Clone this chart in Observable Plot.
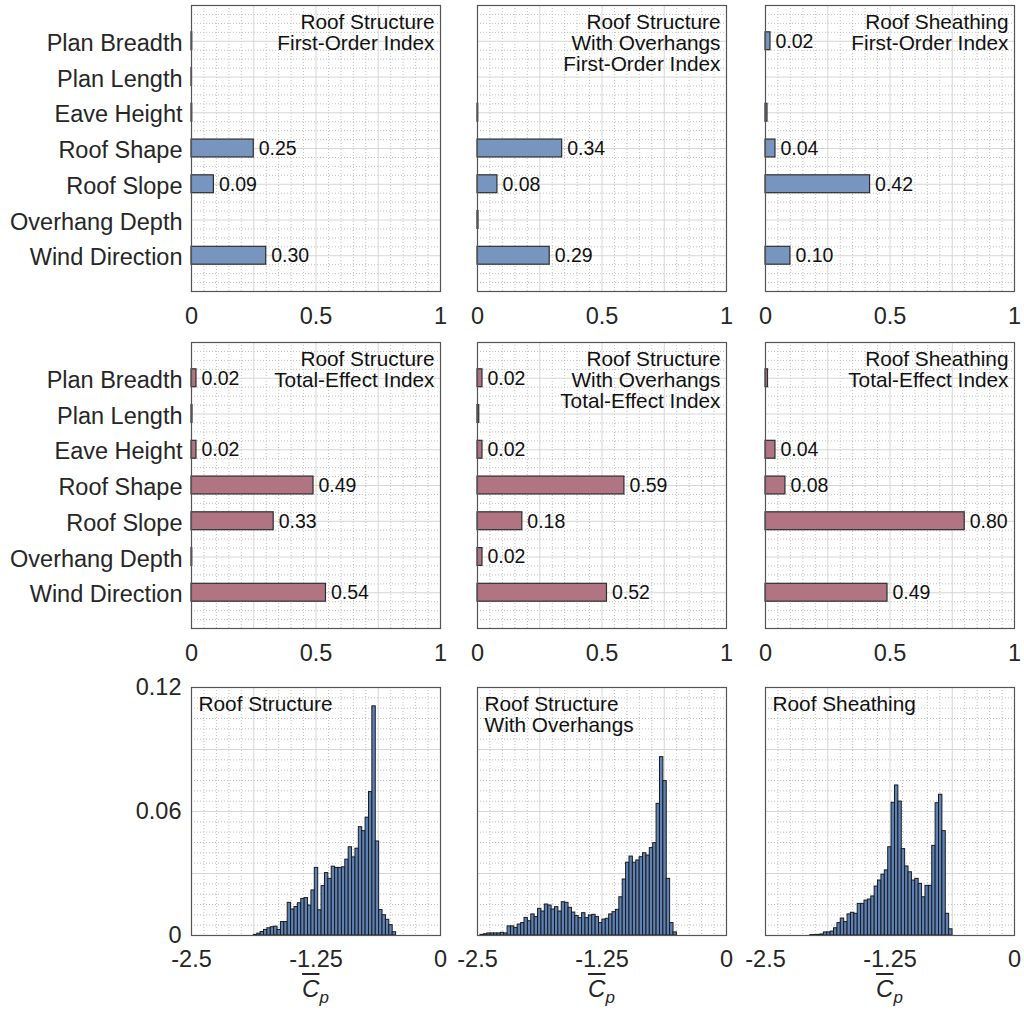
<!DOCTYPE html>
<html>
<head>
<meta charset="utf-8">
<script src="https://cdn.jsdelivr.net/npm/d3@7"></script>
<script src="https://cdn.jsdelivr.net/npm/@observablehq/plot@0.6"></script>
<style>
  body { margin: 0; background: #fff; }
  #fig { position: relative; width: 1024px; height: 1014px; overflow: hidden;
         font-family: "Liberation Sans", Arial, sans-serif; color: #262626; }
  .cp { position: absolute; width: 249px; text-align: center; font-size: 24px; line-height: normal; }
  .cp .c { font-style: italic; text-decoration: overline; }
  .cp sub { font-style: italic; font-size: 17px; }
</style>
</head>
<body>
<div id="fig"></div>
<script>
// ---------------- data ----------------
const categories = ["Plan Breadth", "Plan Length", "Eave Height", "Roof Shape", "Roof Slope", "Overhang Depth", "Wind Direction"];

const firstOrderStructure  = [0.003, 0.002, 0.003, 0.25, 0.09, 0, 0.30];
const firstOrderOverhangs  = [0, 0, 0.003, 0.34, 0.08, 0.004, 0.29];
const firstOrderSheathing  = [0.02, 0, 0.008, 0.04, 0.42, 0, 0.10];

const totalEffectStructure = [0.02, 0.004, 0.02, 0.49, 0.33, 0.003, 0.54];
const totalEffectOverhangs = [0.02, 0.007, 0.02, 0.59, 0.18, 0.02, 0.52];
const totalEffectSheathing = [0.01, 0, 0.04, 0.08, 0.80, 0, 0.49];

const firstOrderTitles  = ["Roof Structure\nFirst-Order Index", "Roof Structure\nWith Overhangs\nFirst-Order Index", "Roof Sheathing\nFirst-Order Index"];
const totalEffectTitles = ["Roof Structure\nTotal-Effect Index", "Roof Structure\nWith Overhangs\nTotal-Effect Index", "Roof Sheathing\nTotal-Effect Index"];
const histTitles        = ["Roof Structure", "Roof Structure\nWith Overhangs", "Roof Sheathing"];

const barTicks   = [0, 0.5, 1];
const histXTicks = [-2.5, -1.25, 0];
const histYTicks = [0, 0.06, 0.12];

// histogram bin edges (Cp) and probabilities
const histBinWidth = 0.034;
const histStructureStart = -1.874;
const histStructure = [0.0003, 0.0009, 0.0017, 0.0027, 0.0035, 0.004, 0.0043, 0.0027, 0.0065, 0.0065,
  0.0158, 0.0126, 0.0138, 0.0156, 0.0177, 0.0181, 0.0145, 0.0218, 0.0327, 0.0122,
  0.0239, 0.0302, 0.0274, 0.0333, 0.0327, 0.0327, 0.033, 0.0367, 0.0427, 0.0378,
  0.042, 0.0524, 0.0505, 0.057, 0.0694, 0.1109, 0.0455, 0.0123, 0.0098, 0.0076,
  0.005, 0.0016];
const histOverhangsStart = -2.47;
const histOverhangs = [0.0003, 0.0006, 0.001, 0.001, 0.001, 0.001, 0.0013, 0.001, 0.0044, 0.0044,
  0.0037, 0.0053, 0.006, 0.0085, 0.0069, 0.0102, 0.0089, 0.0129, 0.0116, 0.015,
  0.0145, 0.0126, 0.0137, 0.0116, 0.0161, 0.0158, 0.0134, 0.0111, 0.0094, 0.0084,
  0.0108, 0.0084, 0.0097, 0.01, 0.0089, 0.006, 0.0077, 0.0081, 0.0102, 0.0113,
  0.0124, 0.0185, 0.0271, 0.0352, 0.0382, 0.0352, 0.0363, 0.0379, 0.0398, 0.0387,
  0.0423, 0.0447, 0.0637, 0.0863, 0.0747, 0.0274, 0.006, 0.0015];
const histSheathingStart = -2.05;
const histSheathing = [0.0002, 0.0002, 0.0003, 0.0005, 0.0015, 0.0015, 0.0019, 0.0035, 0.006, 0.0082,
  0.0065, 0.0102, 0.011, 0.0105, 0.0153, 0.0153, 0.0169, 0.0174, 0.0189, 0.0237,
  0.0266, 0.0294, 0.0315, 0.0427, 0.0642, 0.0726, 0.0648, 0.0418, 0.0334, 0.0306,
  0.0266, 0.0274, 0.025, 0.0185, 0.024, 0.024, 0.0434, 0.064, 0.0681, 0.0505,
  0.0105, 0.003];

// ---------------- layout ----------------
const colLeft = [191, 477, 765];
const rowTop = [5, 342, 687];
const PW = 249, BAR_H = 286, HIST_H = 248;
const FONT = "'Liberation Sans', Arial, Helvetica, sans-serif";
const AXIS_FS = 23.5, TITLE_FS = 20.8, VALUE_FS = 19.5;
const blueFill = "#7895c0", pinkFill = "#b07483", histFill = "#5d82b7";
const minorStyle = {stroke: "#c0c0c0", strokeOpacity: 1, strokeWidth: 1, strokeDasharray: "1,2"};
const majorStyle = {stroke: "#d6d6d6", strokeOpacity: 1, strokeWidth: 1};

const fig = document.getElementById("fig");
function place(node, left, top) {
  node.style.position = "absolute";
  node.style.left = left + "px";
  node.style.top = top + "px";
  fig.appendChild(node);
}
const near = (a, b) => Math.abs(a - b) < 1e-9;

function barPanel(values, title, fill, col, row) {
  const showY = col === 0;
  const data = categories.map((c, i) => ({category: c, idx: i + 1, value: values[i]}));
  const mL = showY ? 191 : 2, mT = 2, mR = 2, mB = 50;
  const majorX = d3.range(0.25, 1, 0.25);
  const minorX = d3.range(0.05, 1, 0.05).filter(v => !majorX.some(m => near(m, v)));
  const majorY = d3.range(1, 8, 1);
  const minorY = d3.range(0.25, 8, 0.25).filter(v => !majorY.some(m => near(m, v)));
  const marks = [
    Plot.gridX(minorX, minorStyle),
    Plot.gridY(minorY, minorStyle),
    Plot.gridX(majorX, majorStyle),
    Plot.gridY(majorY, majorStyle),
    Plot.rect(data.filter(d => d.value > 0), {
      x1: () => 0, x2: "value", y1: d => d.idx - 0.25, y2: d => d.idx + 0.25,
      fill, stroke: "#2e2e2e", strokeWidth: 1.2
    }),
    Plot.text(data.filter(d => d.value >= 0.015), {
      x: "value", y: "idx", text: d => d.value.toFixed(2),
      textAnchor: "start", dx: 5, fontSize: VALUE_FS, fill: "#111"
    }),
    Plot.text([title], {
      frameAnchor: "top-right", textAnchor: "end", lineAnchor: "top",
      dx: -6, dy: 8, fontSize: TITLE_FS, lineHeight: 1.02, fill: "#111"
    }),
    Plot.frame({stroke: "#555", strokeWidth: 1.2}),
    Plot.axisX(barTicks, {tickSize: 0, tickPadding: 16, fontSize: AXIS_FS, tickFormat: d => String(d), label: null})
  ];
  if (showY) marks.push(Plot.axisY(d3.range(1, 8), {tickSize: 0, tickPadding: 9, dy: 2, fontSize: AXIS_FS, tickFormat: i => categories[i - 1], label: null}));
  const svg = Plot.plot({
    width: mL + PW + mR, height: mT + BAR_H + mB,
    marginLeft: mL, marginRight: mR, marginTop: mT, marginBottom: mB,
    x: {type: "linear", domain: [0, 1]},
    y: showY ? {type: "linear", domain: [8, 0]} : {type: "linear", domain: [8, 0], axis: null},
    style: {background: "transparent", fontFamily: FONT, color: "#262626", overflow: "visible"},
    marks
  });
  place(svg, colLeft[col] - mL, rowTop[row] - mT);
}

function histPanel(heights, start, title, col) {
  const showY = col === 0;
  const bins = heights.map((p, i) => ({x1: start + i * histBinWidth, x2: start + (i + 1) * histBinWidth, p}));
  const mL = showY ? 191 : 2, mT = 2, mR = 2, mB = 45;
  const majorX = d3.range(-1.875, -0.1, 0.625);
  const minorX = d3.range(-2.375, -0.05, 0.125).filter(v => !majorX.some(m => near(m, v)));
  const majorY = [0.03, 0.06, 0.09];
  const minorY = d3.range(0.005, 0.1199, 0.005).filter(v => !majorY.some(m => near(m, v)));
  const marks = [
    Plot.gridX(minorX, minorStyle),
    Plot.gridY(minorY, minorStyle),
    Plot.gridX(majorX, majorStyle),
    Plot.gridY(majorY, majorStyle),
    Plot.rect(bins, {x1: "x1", x2: "x2", y1: () => 0, y2: "p", fill: histFill, stroke: "#1a1a1a", strokeWidth: 1}),
    Plot.text([title], {
      frameAnchor: "top-left", textAnchor: "start", lineAnchor: "top",
      dx: 7, dy: 8, fontSize: TITLE_FS, lineHeight: 1.02, fill: "#111"
    }),
    Plot.frame({stroke: "#555", strokeWidth: 1.2}),
    Plot.axisX(histXTicks, {tickSize: 0, tickPadding: 15, fontSize: AXIS_FS, tickFormat: d => String(d), label: null})
  ];
  if (showY) marks.push(Plot.axisY(histYTicks, {tickSize: 0, tickPadding: 10, fontSize: AXIS_FS, tickFormat: d => String(d), label: null}));
  const svg = Plot.plot({
    width: mL + PW + mR, height: mT + HIST_H + mB,
    marginLeft: mL, marginRight: mR, marginTop: mT, marginBottom: mB,
    x: {type: "linear", domain: [-2.5, 0]},
    y: showY ? {type: "linear", domain: [0, 0.12]} : {type: "linear", domain: [0, 0.12], axis: null},
    style: {background: "transparent", fontFamily: FONT, color: "#262626", overflow: "visible"},
    marks
  });
  place(svg, colLeft[col] - mL, rowTop[2] - mT);

  const lab = document.createElement("div");
  lab.className = "cp";
  lab.innerHTML = '<span class="c">C</span><sub>p</sub>';
  place(lab, colLeft[col], 975);
}

const firstOrder = [firstOrderStructure, firstOrderOverhangs, firstOrderSheathing];
const totalEffect = [totalEffectStructure, totalEffectOverhangs, totalEffectSheathing];
firstOrder.forEach((v, c) => barPanel(v, firstOrderTitles[c], blueFill, c, 0));
totalEffect.forEach((v, c) => barPanel(v, totalEffectTitles[c], pinkFill, c, 1));
histPanel(histStructure, histStructureStart, histTitles[0], 0);
histPanel(histOverhangs, histOverhangsStart, histTitles[1], 1);
histPanel(histSheathing, histSheathingStart, histTitles[2], 2);
</script>
</body>
</html>
